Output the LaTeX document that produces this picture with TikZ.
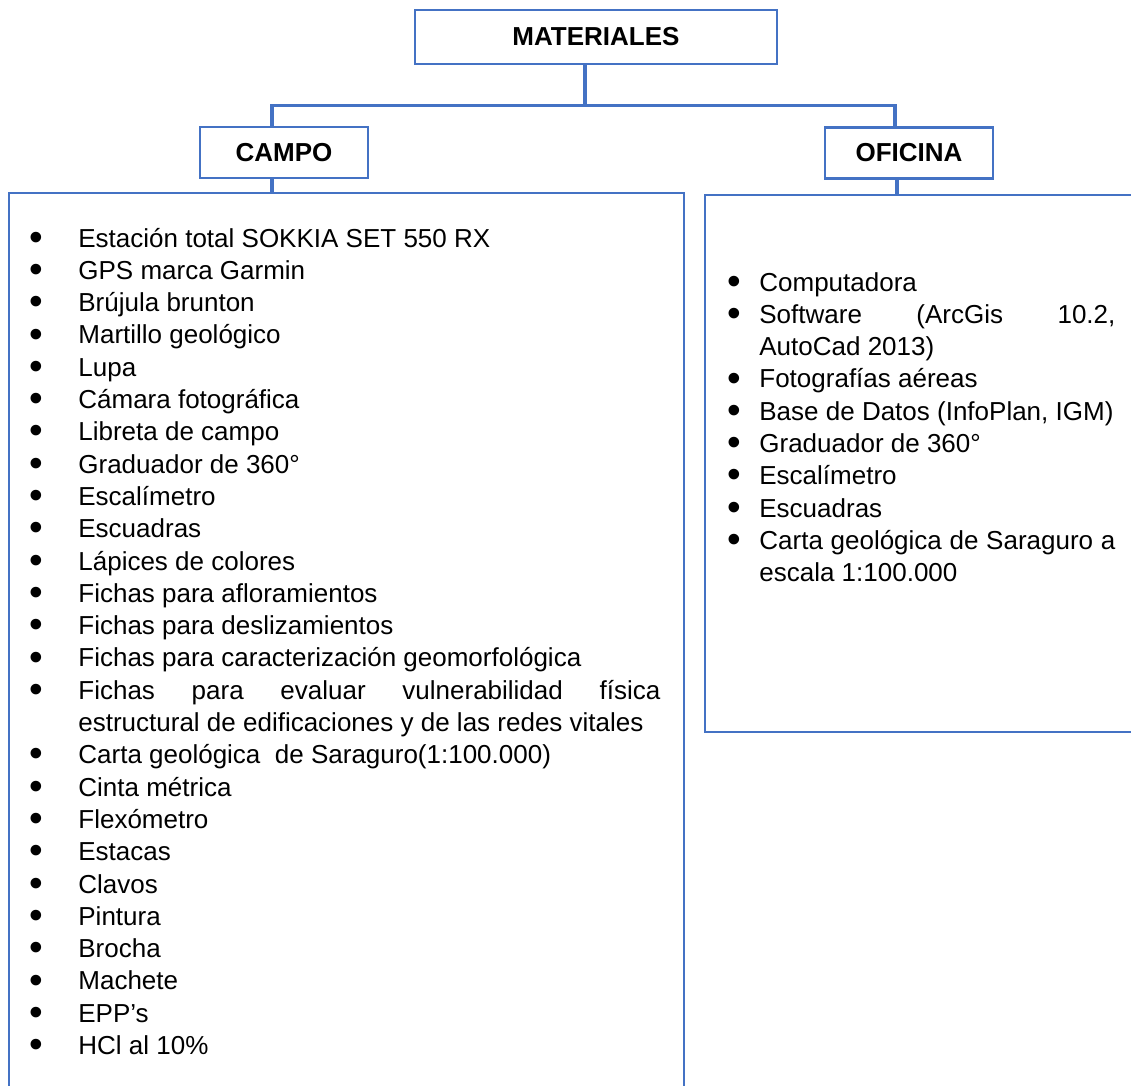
\documentclass[tikz,border=0pt]{standalone}
\usepackage{fontspec}
\setmainfont{Liberation Sans}
\usetikzlibrary{positioning}
\definecolor{matblue}{RGB}{68,114,196}
\newcommand{\bul}{\raisebox{-0.12em}{\scalebox{1.5}{\textbullet}}}
\newcommand{\litem}[1]{\makebox[24.5pt][l]{\bul}#1}
\newcommand{\ritem}[1]{\makebox[16pt][l]{\bul}#1}

\begin{document}
\begin{tikzpicture}[x=0.5pt, y=-0.5pt,
  headbox/.style={draw=matblue, line width=1.1pt, inner sep=0pt, minimum width=84pt, minimum height=25.5pt, font=\fontsize{13}{16}\selectfont\bfseries},
  listbox/.style={draw=matblue, line width=1.1pt, inner sep=0pt, anchor=north west},
  listtext/.style={anchor=base west, align=left, inner sep=0pt, font=\fontsize{13}{16.15}\selectfont},
  conn/.style={draw=matblue, line width=1.6pt}
]
  \clip (0,0) rectangle (1131,1086);
  \fill[white] (0,0) rectangle (1131,1086);

  % header boxes
  \node[headbox, minimum width=181pt, minimum height=27pt] (mat) at (596,37) {MATERIALES};
  \node[headbox] (campo) at (284,152.5) {CAMPO};
  \node[headbox] (oficina) at (909,153) {OFICINA};

  % list frames
  \node[listbox, minimum width=337.5pt, minimum height=454pt] (campolist) at (8,192) {};
  \node[listbox, minimum width=220.5pt, minimum height=268.5pt] (oficinalist) at (704,194) {};

  % connectors
  \coordinate (hub) at (585,107);
  \draw[conn] ([xshift=-5.5pt]mat.south) -- (hub);
  \draw[conn] ([xshift=-6pt]campo.north) -- ++(0,-20) -| ([xshift=-7pt]oficina.north);
  \draw[conn] ([xshift=-6pt]campo.south) -- ([xshift=-6pt]campo.south |- campolist.north);
  \draw[conn] ([xshift=-6pt]oficina.south) -- ([xshift=-6pt]oficina.south |- oficinalist.north);

  % lists (base = last line)
  \node[listtext] (campotext) at (29,1054.5) {
    \litem{Estación total SOKKIA SET 550 RX}\\
    \litem{GPS marca Garmin}\\
    \litem{Brújula brunton}\\
    \litem{Martillo geológico}\\
    \litem{Lupa}\\
    \litem{Cámara fotográfica}\\
    \litem{Libreta de campo}\\
    \litem{Graduador de 360°}\\
    \litem{Escalímetro}\\
    \litem{Escuadras}\\
    \litem{Lápices de colores}\\
    \litem{Fichas para afloramientos}\\
    \litem{Fichas para deslizamientos}\\
    \litem{Fichas para caracterización geomorfológica}\\
    \litem{\makebox[291pt][s]{Fichas para evaluar vulnerabilidad física}}\\
    \hspace*{24.5pt}estructural de edificaciones y de las redes vitales\\
    \litem{Carta geológica\ \ de Saraguro(1:100.000)}\\
    \litem{Cinta métrica}\\
    \litem{Flexómetro}\\
    \litem{Estacas}\\
    \litem{Clavos}\\
    \litem{Pintura}\\
    \litem{Brocha}\\
    \litem{Machete}\\
    \litem{EPP’s}\\
    \litem{HCl al 10\%}
  };
  \node[listtext] (oficinatext) at (727,581.7) {
    \ritem{Computadora}\\
    \ritem{\makebox[178pt][s]{Software (ArcGis 10.2,}}\\
    \hspace*{16pt}AutoCad 2013)\\
    \ritem{Fotografías aéreas}\\
    \ritem{Base de Datos (InfoPlan, IGM)}\\
    \ritem{Graduador de 360°}\\
    \ritem{Escalímetro}\\
    \ritem{Escuadras}\\
    \ritem{\makebox[178pt][s]{Carta geológica de Saraguro a}}\\
    \hspace*{16pt}escala 1:100.000
  };
\end{tikzpicture}
\end{document}
